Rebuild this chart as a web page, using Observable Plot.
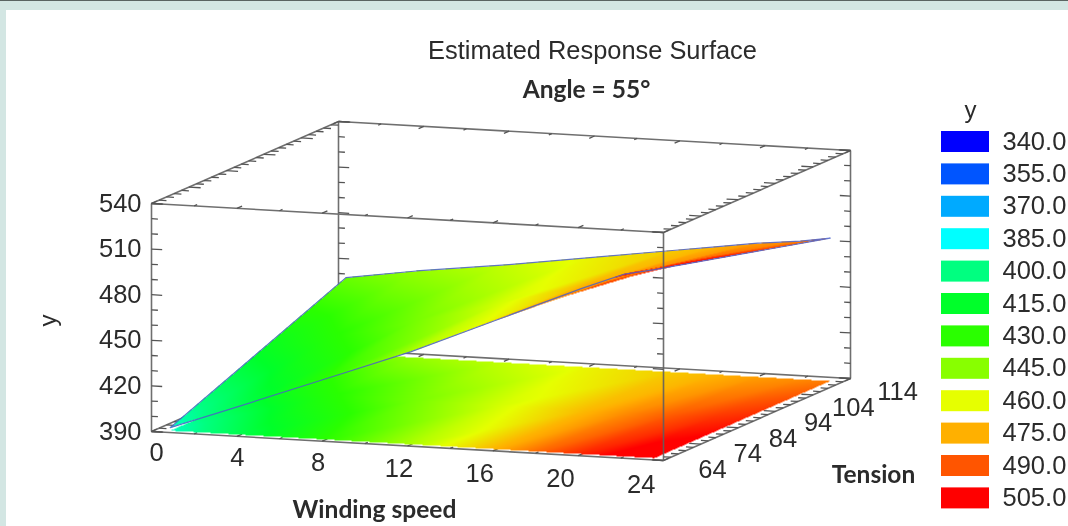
<!DOCTYPE html>
<html><head><meta charset="utf-8">
<script src="https://cdn.jsdelivr.net/npm/d3@7"></script>
<script src="https://cdn.jsdelivr.net/npm/@observablehq/plot@0.6"></script>
<style>
html,body{margin:0;padding:0;background:#d3e6e3;overflow:hidden}
#page{position:relative;width:1068px;height:526px;overflow:hidden}
#topline{position:absolute;left:0;top:0;width:1068px;height:1px;background:#5a6462}
#panel{position:absolute;left:6px;top:10px;right:0;bottom:0;background:#fff}
#chart{position:absolute;left:0;top:0;filter:blur(0.4px)}
#chart svg{background:transparent}
</style></head><body>
<div id="page"><div id="topline"></div><div id="panel"></div><div id="chart"></div></div>
<script>
// ---- values ----
const windingTicks=[0,4,8,12,16,20,24];
const tensionTicks=[64,74,84,94,104,114];
const yTicks=[390,420,450,480,510,540];
const legendValues=[340,355,370,385,400,415,430,445,460,475,490,505];
const legendColors=["#0000ff","#0055ff","#00aaff","#00ffff","#00ff80","#00ff2a","#2aff00","#88ff00","#e6ff00","#ffb000","#ff5500","#ff0000"];
const windingGrid=[0.7,4,8,12,16,18,20,22,23.4];
const tensionGrid=[65,88.5,112];
const yFront=[392,409,430,451,475,487,499,510,514];
const yMiddle=[416,428,442,457,473,481,489,496,499];
const yBack=[440,447,454,462,470,474,478,481,484];
const surfaceRows=[yFront,yMiddle,yBack];

// ---- oblique view of the box ----
const W0=0,W1=24,T0=64,T1=114,Y0=390,Y1=540;
const px=(w,t)=>151+512*(w-W0)/(W1-W0)+187*(t-T0)/(T1-T0);
const py=(w,t,v)=>431+29*(w-W0)/(W1-W0)-82*(t-T0)/(T1-T0)-228*(v-Y0)/(Y1-Y0);
const edge=(a,b)=>({x1:px(a[0],a[1]),y1:py(...a),x2:px(b[0],b[1]),y2:py(...b)});

const boxEdges=[];
for(const v of [Y0,Y1]){
  boxEdges.push(edge([W0,T0,v],[W1,T0,v]),edge([W1,T0,v],[W1,T1,v]),edge([W1,T1,v],[W0,T1,v]),edge([W0,T1,v],[W0,T0,v]));
}
for(const [w,t] of [[W0,T0],[W1,T1],[W0,T1]]) boxEdges.push(edge([w,t,Y0],[w,t,Y1]));
const frontRight=[edge([W1,T0,Y0],[W1,T0,Y1])];

const tickLinks=[];
// vertical edges
for(const v of d3.range(390,541,10)){
  const len=(v-390)%30===0?0.5:0.3;
  tickLinks.push(edge([W0,T0,v],[W0+len,T0,v]),edge([W0,T1,v],[W0+len,T1,v]),edge([W1,T0,v],[W1-len,T0,v]),edge([W1,T1,v],[W1-len,T1,v]));
}
// winding edges
for(const w of d3.range(0,25,2)) for(const v of [Y0,Y1]){
  const len=w%4===0?1.4:0.8;
  tickLinks.push(edge([w,T0,v],[w,T0+len,v]),edge([w,T1,v],[w,T1-len,v]));
}
// tension edges
for(const t of d3.range(64,115,2)) for(const v of [Y0,Y1]){
  const len=(t-64)%10===0?0.55:0.35;
  tickLinks.push(edge([W0,t,v],[W0+len,t,v]),edge([W1,t,v],[W1-len,t,v]));
}

// ---- surface geometry: triangles from the grid ----
function triangles(vertex){
  const out=[];
  for(let r=0;r<tensionGrid.length-1;r++) for(let c=0;c<windingGrid.length-1;c++){
    const a=vertex(r,c),b=vertex(r,c+1),d=vertex(r+1,c),e=vertex(r+1,c+1);
    out.push([a,b,e],[a,e,d]);
  }
  return out.map(([a,b,c])=>{
    const det=(b.x-a.x)*(c.y-a.y)-(c.x-a.x)*(b.y-a.y);
    return {a,b,c,det,x0:Math.min(a.x,b.x,c.x)-.01,x1:Math.max(a.x,b.x,c.x)+.01,y0:Math.min(a.y,b.y,c.y)-.01,y1:Math.max(a.y,b.y,c.y)+.01};
  });
}
const shade=tris=>(x,y)=>{
  for(const t of tris){
    if(x<t.x0||x>t.x1||y<t.y0||y>t.y1) continue;
    const u=((x-t.a.x)*(t.c.y-t.a.y)-(t.c.x-t.a.x)*(y-t.a.y))/t.det;
    const w=((t.b.x-t.a.x)*(y-t.a.y)-(x-t.a.x)*(t.b.y-t.a.y))/t.det;
    if(u<-1e-6||w<-1e-6||u+w>1+1e-6) continue;
    return t.a.v+u*(t.b.v-t.a.v)+w*(t.c.v-t.a.v);
  }
  return NaN;
};
const topVertex=(r,c)=>{const w=windingGrid[c],t=tensionGrid[r],v=surfaceRows[r][c];return {x:px(w,t),y:py(w,t,v),v};};
const baseVertex=(r,c)=>{const w=windingGrid[c],t=tensionGrid[r],v=surfaceRows[r][c];return {x:px(w,t),y:py(w,t,Y0),v};};
const topFill=shade(triangles(topVertex));
const baseFill=shade(triangles(baseVertex));

const outline=[
  ...windingGrid.map((_,c)=>topVertex(tensionGrid.length-1,c)),
  ...[...windingGrid.keys()].reverse().map(c=>topVertex(0,c))
];
outline.push(topVertex(1,0),topVertex(2,0));

// ---- legend ----
const legendTop=v=>131+(v-340)/15*32.4;
const legendRows=legendValues.map(v=>({v,y1:legendTop(v),y2:legendTop(v)+21,label:v.toFixed(1)}));

const sans="Liberation Sans, Arial, sans-serif";
const bold="Lato, sans-serif";
const ink="#2b2b2b";
const raster=f=>Plot.raster({fill:f,x1:0,x2:1068,y1:0,y2:526,pixelSize:1,imageRendering:"auto"});

const chart=Plot.plot({
  width:1068,height:526,margin:0,
  x:{domain:[0,1068],range:[0,1068],axis:null},
  y:{domain:[0,526],range:[0,526],axis:null},
  color:{type:"linear",domain:legendValues,range:legendColors,clamp:true},
  style:{background:"transparent"},
  marks:[
    Plot.link(boxEdges,{x1:"x1",y1:"y1",x2:"x2",y2:"y2",stroke:"#6f6f6f",strokeWidth:1.6}),
    Plot.link(tickLinks,{x1:"x1",y1:"y1",x2:"x2",y2:"y2",stroke:"#555",strokeWidth:1.3}),
    raster(baseFill),
    raster(topFill),
    Plot.line(outline,{x:"x",y:"y",stroke:"#4a5fc8",strokeWidth:1.2,strokeOpacity:.85,curve:"linear"}),
    Plot.link(frontRight,{x1:"x1",y1:"y1",x2:"x2",y2:"y2",stroke:"#5f5f5f",strokeWidth:1.6,strokeOpacity:.9}),
    // axis labels
    Plot.text(yTicks,{x:v=>px(W0,T0)-10,y:v=>py(W0,T0,v),text:d=>String(d),textAnchor:"end",fontSize:25.5,fontFamily:sans,fill:ink}),
    Plot.text(windingTicks,{x:w=>156+20.2*w,y:w=>452+1.33*w,text:d=>String(d),fontSize:25.5,fontFamily:sans,fill:ink}),
    Plot.text(tensionTicks,{x:t=>712+3.52*(t-64)+(t===114?9:0),y:t=>469-1.55*(t-64),text:d=>String(d),fontSize:25.5,fontFamily:sans,fill:ink}),
    Plot.text(["Winding speed"],{x:()=>374,y:()=>510,text:d=>d,fontSize:24.6,fontWeight:700,fontFamily:bold,fill:ink}),
    Plot.text(["Tension"],{x:()=>873,y:()=>475,text:d=>d,fontSize:24.5,fontWeight:700,fontFamily:bold,fill:ink}),
    Plot.text(["y"],{x:()=>48,y:()=>320,rotate:-90,text:d=>d,fontSize:24,fontFamily:sans,fill:ink}),
    // titles
    Plot.text(["Estimated Response Surface"],{x:()=>592,y:()=>50,text:d=>d,fontSize:25.4,fontFamily:sans,fill:ink}),
    Plot.text(["Angle = 55°"],{x:()=>586,y:()=>90,text:d=>d,fontSize:24.5,fontWeight:700,fontFamily:bold,fill:ink}),
    // legend
    Plot.text(["y"],{x:()=>970,y:()=>110,text:d=>d,fontSize:24,fontFamily:sans,fill:ink}),
    Plot.rect(legendRows,{x1:()=>941,x2:()=>989,y1:"y1",y2:"y2",fill:"v"}),
    Plot.text(legendRows,{x:()=>1002,y:d=>d.y1+10,text:"label",textAnchor:"start",fontSize:25.5,fontFamily:sans,fill:ink})
  ]
});
document.getElementById("chart").append(chart);
</script>
</body></html>
